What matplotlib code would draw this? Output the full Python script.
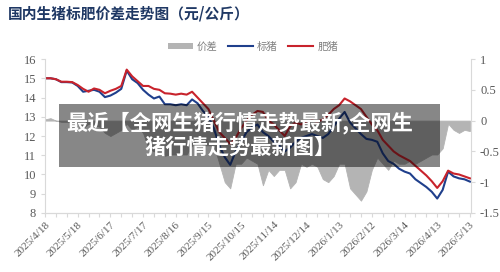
import pandas as pd
import matplotlib
matplotlib.use("Agg")
import matplotlib.pyplot as plt
from matplotlib.patches import Rectangle, Patch
from matplotlib.lines import Line2D

plt.rcParams["font.family"] = ["Liberation Serif", "Noto Sans CJK SC", "DejaVu Sans"]

# dates: every 5 days from 2025/4/18 to 2026/5/13
dates = pd.date_range("2025-04-18", "2026-05-13", freq="5D")

# 肥猪 (fat hog) price, yuan/kg
fat_hog = [15.0, 15.0, 14.95, 14.82, 14.82, 14.8, 14.65, 14.45, 14.3, 14.47,
           14.4, 14.22, 14.35, 14.45, 14.6, 15.45, 15.1, 14.85, 14.6, 14.6,
           14.45, 14.4, 14.22, 14.2, 14.15, 14.2, 14.15, 14.3, 14.0, 13.7,
           13.4, 12.8, 12.2, 11.9, 11.6, 11.9, 12.4, 12.8, 13.1, 13.3,
           13.25, 12.8, 12.6, 12.3, 12.0, 12.5, 12.7, 12.6, 12.75, 12.8,
           12.75, 12.85, 13.1, 13.4, 13.6, 13.95, 13.8, 13.6, 13.4, 13.0,
           12.6, 12.3, 11.8, 11.5, 11.2, 11.0, 10.85, 10.7, 10.45, 10.2,
           9.95, 9.65, 9.3, 9.65, 10.2, 10.05, 10.0, 9.9, 9.8]

# 标猪 (standard hog) price, yuan/kg
std_hog = [15.0, 15.0, 14.95, 14.8, 14.8, 14.78, 14.6, 14.3, 14.35, 14.4,
           14.3, 14.02, 14.1, 14.25, 14.45, 15.4, 14.95, 14.75, 14.4, 14.15,
           13.95, 14.05, 13.65, 13.65, 13.6, 13.65, 13.6, 13.9, 13.7, 13.3,
           13.0, 12.4, 11.5, 10.9, 10.5, 11.2, 11.7, 12.2, 12.45, 12.6,
           12.2, 12.0, 11.7, 11.5, 11.2, 11.4, 11.7, 11.9, 12.0, 12.1,
           12.0, 11.9, 12.1, 12.5, 12.9, 13.25, 12.7, 12.4, 12.1, 11.85,
           11.8, 11.7, 11.1, 10.7, 10.55, 10.3, 10.15, 10.05, 9.75, 9.55,
           9.35, 9.1, 8.75, 9.2, 10.15, 9.9, 9.8, 9.75, 9.63]

# 价差 (spread), right axis
spread = [0.02, 0.04, 0.0, -0.02, -0.02, -0.02, -0.05, -0.12, -0.05, -0.07,
          -0.1, -0.2, -0.25, -0.2, -0.15, -0.05, -0.15, -0.1, -0.2, -0.45,
          -0.5, -0.35, -0.57, -0.55, -0.55, -0.55, -0.55, -0.4, -0.3, -0.4,
          -0.4, -0.4, -0.7, -1.0, -1.1, -0.7, -0.7, -0.6, -0.65, -0.7,
          -1.05, -0.8, -0.9, -0.8, -0.8, -1.1, -1.0, -0.7, -0.75, -0.7,
          -0.75, -0.95, -1.0, -0.9, -0.7, -0.7, -1.1, -1.2, -1.3, -1.15,
          -0.8, -0.6, -0.7, -0.8, -0.65, -0.7, -0.7, -0.65, -0.7, -0.65,
          -0.6, -0.55, -0.55, -0.45, -0.05, -0.15, -0.2, -0.15, -0.17]

left_ticks = [8, 9, 10, 11, 12, 13, 14, 15, 16]
right_ticks = [-1.5, -1, -0.5, 0, 0.5, 1]
right_labels = ["-1.5", "-1", "-0.5", "0", "0.5", "1"]

BLUE = "#1f3f8c"
RED = "#c8232c"
GRAY = "#b4b4b4"
AXIS = "#d9d9d9"
LABEL = "#595959"

fig = plt.figure(figsize=(5, 2.72), dpi=100)
ax = fig.add_axes([0.09, 0.217, 0.852, 0.566])
ax2 = ax.twinx()

ax2.fill_between(dates, 0, spread, color=GRAY, linewidth=0.6, edgecolor=GRAY)
ax.plot(dates, std_hog, color=BLUE, linewidth=1.5)
ax.plot(dates, fat_hog, color=RED, linewidth=1.5)

ax.set_zorder(ax2.get_zorder() + 1)
ax.patch.set_visible(False)

ax.set_ylim(8, 16)
ax.set_yticks(left_ticks)
ax2.set_ylim(-1.5, 1)
ax2.set_yticks(right_ticks)
ax2.set_yticklabels(right_labels)

start = pd.Timestamp("2025-04-18")
end = pd.Timestamp("2026-05-14")
ax.set_xlim(start, end)
major = pd.date_range(start, "2026-05-13", freq="30D")
minor = pd.date_range(start, "2026-05-13", freq="10D")
ax.set_xticks(major)
ax.set_xticks(minor, minor=True)
ax.set_xticklabels([f"{d.year}/{d.month}/{d.day}" for d in major],
                   rotation=45, ha="right", rotation_mode="anchor")

for a in (ax, ax2):
    a.spines["top"].set_visible(False)
    for side in ("left", "right", "bottom"):
        a.spines[side].set_color(AXIS)
        a.spines[side].set_linewidth(0.8)
    a.tick_params(colors=AXIS, labelcolor=LABEL, labelsize=9, length=3, width=0.8)
ax.tick_params(axis="x", which="both", length=3, width=0.8, colors=AXIS,
               labelcolor=LABEL, labelsize=8, pad=2)
ax2.spines["left"].set_visible(False)
ax.spines["right"].set_visible(False)

# title
fig.text(0.016, 0.949, "国内生猪标肥价差走势图（元/公斤）", family="Noto Sans CJK SC",
         fontsize=10.6, fontweight="bold", color="#1f3864", ha="left", va="center")

# legend
handles = [Patch(facecolor=GRAY, edgecolor="none"),
           Line2D([], [], color=BLUE, linewidth=1.5),
           Line2D([], [], color=RED, linewidth=1.5)]
fig.legend(handles, ["价差", "标猪", "肥猪"], loc="center", ncol=3, frameon=False,
           bbox_to_anchor=(0.506, 0.828), prop={"family": "Noto Sans CJK SC", "size": 7.5},
           labelcolor="#7f7f7f", handlelength=2.4, handleheight=0.6, columnspacing=1.0,
           handletextpad=0.4)

# overlay banner
fig.patches.append(Rectangle((0.118, 0.386), 0.762, 0.232, transform=fig.transFigure,
                             facecolor="black", alpha=0.47, edgecolor="none", zorder=10))
fig.text(0.48, 0.551, "最近【全网生猪行情走势最新,全网生", family="Noto Sans CJK SC",
         fontsize=15.3, fontweight="bold", color="white", ha="center", va="center", zorder=11)
fig.text(0.48, 0.46, "猪行情走势最新图】", family="Noto Sans CJK SC",
         fontsize=15.3, fontweight="bold", color="white", ha="center", va="center", zorder=11)

fig.savefig("out.png", dpi=100)
